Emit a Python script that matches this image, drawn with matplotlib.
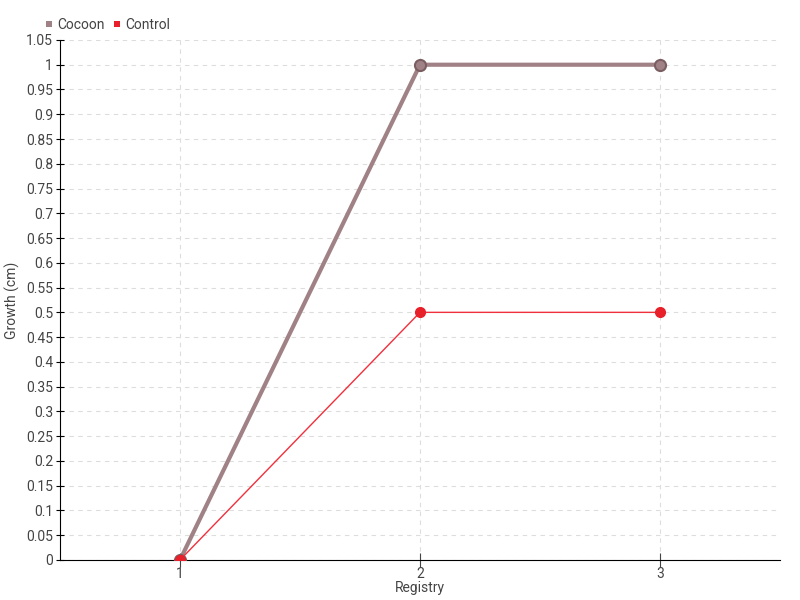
import matplotlib
matplotlib.use("Agg")
import matplotlib.pyplot as plt
import numpy as np

registry = [1, 2, 3]
cocoon = [0, 1, 1]
control = [0, 0.5, 0.5]

plt.rcParams['font.family'] = ['Roboto', 'DejaVu Sans']

fig = plt.figure(figsize=(8, 6), dpi=100)
ax = fig.add_axes([0.075, 0.0667, 0.9, 0.8667])

ax.plot(registry, cocoon, color='#a08286', lw=3, marker='o', ms=8,
        mfc='#a08286', mec='#7a5e62', mew=1.5, label='Cocoon', zorder=3)
ax.plot(registry, control, color='#f0303c', lw=1, marker='o', ms=7,
        mfc='#e8202a', mec='#e8202a', label='Control', zorder=4)

yt = np.arange(0, 1.051, 0.05)
ax.set_xlim(0.5, 3.5)
ax.set_ylim(0, 1.05)
ax.set_xticks(registry)
ax.set_yticks(yt)
ax.set_yticklabels([f'{v:.2f}'.rstrip('0').rstrip('.') for v in yt])
ax.tick_params(axis='both', labelsize=10, colors='#444444', length=5)
ax.tick_params(axis='x', direction='inout', length=10, pad=0, color='#444444')
ax.tick_params(axis='y', direction='inout', length=6, color='black', pad=2)

for s in ['top', 'right']:
    ax.spines[s].set_visible(False)
ax.spines['left'].set_color('black')
ax.spines['bottom'].set_color('black')

ax.grid(True, ls=(0, (4, 4)), color='#dddddd', lw=0.8)
ax.set_axisbelow(True)

ax.set_xlabel('Registry', fontsize=10, color='#444444', labelpad=0)
ax.set_ylabel('Growth (cm)', fontsize=10, color='#444444', labelpad=4)

ax.legend(loc='lower left', bbox_to_anchor=(-0.025, 1.01), ncol=2, frameon=False,
          fontsize=10, handlelength=0.6, handletextpad=0.3, columnspacing=0.6,
          borderaxespad=0, borderpad=0.2, markerscale=0.6)
leg = ax.get_legend()
for h in leg.legend_handles:
    h.set_linestyle('none')
    h.set_marker('s')
    h.set_markeredgewidth(0)
for t in leg.get_texts():
    t.set_color('#444444')

fig.savefig('out.png', dpi=100)
